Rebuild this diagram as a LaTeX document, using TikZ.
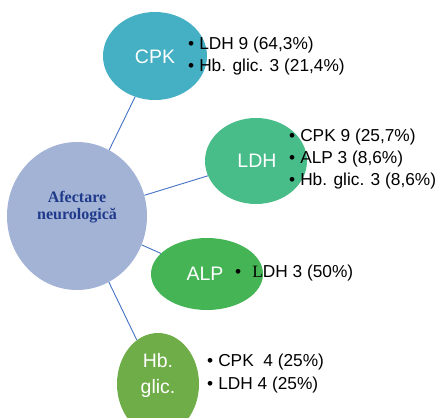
\documentclass[tikz,border=0pt]{standalone}
\usepackage{fontspec}
\setmainfont{Liberation Sans}
\newfontfamily\timesfont{Liberation Serif}
\usetikzlibrary{shapes.geometric}
\definecolor{mainfill}{HTML}{A3B3D6}
\definecolor{maintext}{HTML}{1F3A8A}
\definecolor{cpkfill}{HTML}{45AFC3}
\definecolor{ldhfill}{HTML}{48BD8A}
\definecolor{alpfill}{HTML}{45B455}
\definecolor{hbfill}{HTML}{6EAD47}
\definecolor{linkcol}{HTML}{4472C4}
\tikzset{
  blob/.style={ellipse, inner sep=0pt, draw=none},
  lbl/.style={text=white, font=\fontsize{19.5}{26}\selectfont, align=center},
  item/.style={anchor=west, inner sep=0pt, font=\fontsize{17.3}{20}\selectfont},
  link/.style={draw=linkcol, line width=0.9pt}
}
\begin{document}
\begin{tikzpicture}[x=1pt,y=-1pt]
\useasboundingbox (0,0) rectangle (437,418);
\fill[white] (0,0) rectangle (437,418);
\begin{scope}
\clip (0,0) rectangle (437,418);
% nodes
\node[blob, fill=mainfill, minimum width=140pt, minimum height=148pt] (main) at (77,216) {};
\node[blob, fill=cpkfill, minimum width=104pt, minimum height=88pt] (cpk) at (155,56) {};
\node[blob, fill=ldhfill, minimum width=102pt, minimum height=86pt] (ldh) at (256,161) {};
\node[blob, fill=alpfill, minimum width=112pt, minimum height=72pt] (alp) at (207,274) {};
\node[blob, fill=hbfill, minimum width=82pt, minimum height=102pt] (hb) at (158,384) {};
% connectors
\draw[link] (main) -- (cpk);
\draw[link] (main) -- (ldh);
\draw[link] (main) -- (alp);
\draw[link] (main) -- (hb);
% labels
\node[text=maintext, font=\timesfont\bfseries\fontsize{16}{17.5}\selectfont, align=center] (maintxt) at (77,207) {Afectare\\neurologică};
\node[lbl] (cpktxt) at (155,57) {CPK};
\node[lbl] (ldhtxt) at (257,161) {LDH};
\node[lbl] (alptxt) at (205,274) {ALP};
\node[lbl] (hbtxt) at (158,375) {Hb.\\glic.};
% lists
\node[item] (c1) at (188,45) {•\hspace{5pt}LDH 9 (64,3\%)};
\node[item] (c2) at (188,67) {•\hspace{5pt}Hb. glic. 3 (21,4\%)};
\node[item] (l1) at (289,137) {•\hspace{5pt}CPK 9 (25,7\%)};
\node[item] (l2) at (289,159) {•\hspace{5pt}ALP 3 (8,6\%)};
\node[item] (l3) at (289,181) {•\hspace{5pt}Hb. glic. 3 (8,6\%)};
\node[item] (a1) at (235,273) {•\hspace{11pt}{\timesfont L}DH 3 (50\%)};
\node[item] (h1) at (207,362) {•\hspace{5pt}CPK\ \ 4 (25\%)};
\node[item] (h2) at (207,385) {•\hspace{5pt}LDH 4 (25\%)};
\end{scope}
\end{tikzpicture}
\end{document}
